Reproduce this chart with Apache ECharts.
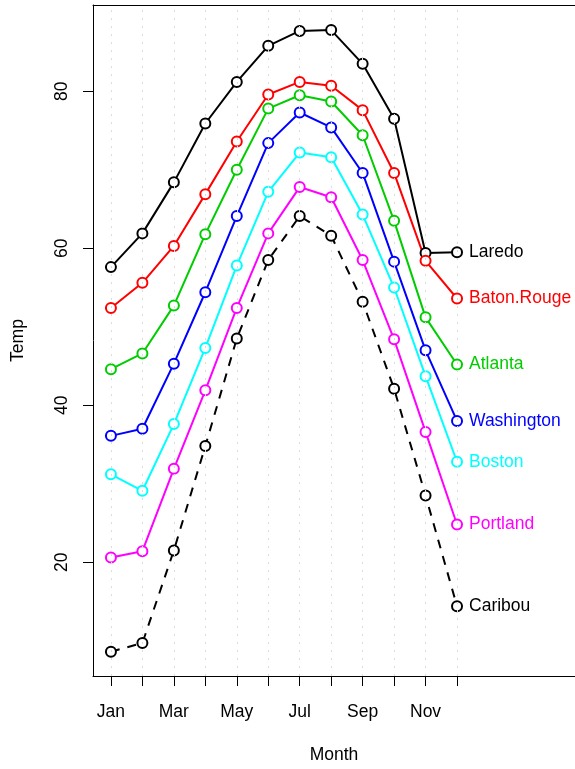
<!DOCTYPE html>
<html>
<head>
<meta charset="utf-8">
<script src="https://cdn.jsdelivr.net/npm/echarts@6/dist/echarts.min.js"></script>
<style>
  html, body { margin: 0; padding: 0; background: #fff; }
  #chart { width: 575px; height: 769px; }
</style>
</head>
<body>
<div id="chart"></div>
<script>
// Monthly mean temperatures (deg F) for seven US cities
const months = ['Jan', 'Feb', 'Mar', 'Apr', 'May', 'Jun', 'Jul', 'Aug', 'Sep', 'Oct', 'Nov', 'Dec'];
const monthIndex = [1, 2, 3, 4, 5, 6, 7, 8, 9, 10, 11, 12];
const labelledMonths = [1, 3, 5, 7, 9, 11];
const tempTicks = [20, 40, 60, 80];

const laredo     = [57.6, 61.9, 68.4, 75.9, 81.2, 85.8, 87.7, 87.8, 83.5, 76.5, 59.4, 59.5];
const batonRouge = [52.4, 55.6, 60.3, 66.9, 73.6, 79.6, 81.2, 80.7, 77.6, 69.6, 58.4, 53.6];
const atlanta    = [44.6, 46.6, 52.7, 61.8, 70.0, 77.8, 79.5, 78.7, 74.4, 63.5, 51.2, 45.2];
const washington = [36.1, 37.0, 45.3, 54.4, 64.1, 73.4, 77.3, 75.4, 69.6, 58.3, 47.0, 38.0];
const boston     = [31.2, 29.1, 37.6, 47.3, 57.8, 67.2, 72.2, 71.6, 64.3, 55.0, 43.7, 32.8];
const portland   = [20.6, 21.4, 31.9, 41.9, 52.4, 61.9, 67.8, 66.5, 58.5, 48.4, 36.6, 24.8];
const caribou    = [8.6, 9.7, 21.5, 34.8, 48.5, 58.5, 64.1, 61.6, 53.2, 42.1, 28.5, 14.4];

const cities = [
  { name: 'Laredo',      values: laredo,     color: '#000000', dash: 'solid' },
  { name: 'Baton.Rouge', values: batonRouge, color: '#ff0000', dash: 'solid' },
  { name: 'Atlanta',     values: atlanta,    color: '#00cd00', dash: 'solid' },
  { name: 'Washington',  values: washington, color: '#0000ff', dash: 'solid' },
  { name: 'Boston',      values: boston,     color: '#00ffff', dash: 'solid' },
  { name: 'Portland',    values: portland,   color: '#ff00ff', dash: 'solid' },
  { name: 'Caribou',     values: caribou,    color: '#000000', dash: [9, 8] }
];

const FONT = 'Liberation Sans, Arial, Helvetica, sans-serif';
const FS = 17.5;
const X_MIN = 0.43;
const X_MAX = 15.75;

const chart = echarts.init(document.getElementById('chart'), null, { renderer: 'canvas' });

const series = [];

// light dotted guide at each month
series.push({
  type: 'line',
  data: [],
  silent: true,
  z: 1,
  markLine: {
    silent: true,
    symbol: ['none', 'none'],
    label: { show: false },
    lineStyle: { color: '#dcdcdc', type: [2, 6], width: 1 },
    emphasis: { disabled: true },
    data: monthIndex.map(m => ({ xAxis: m }))
  }
});

cities.forEach(c => {
  series.push({
    name: c.name,
    type: 'line',
    z: 3,
    symbol: 'emptyCircle',
    symbolSize: 10,
    showAllSymbol: true,
    color: c.color,
    lineStyle: { color: c.color, width: 2, type: c.dash },
    itemStyle: { color: c.color, borderColor: c.color, borderWidth: 2 },
    emphasis: { disabled: true },
    data: c.values.map((v, i) => {
      const point = [monthIndex[i], v];
      if (i === c.values.length - 1) {
        return {
          value: point,
          label: {
            show: true,
            position: 'right',
            distance: 6,
            formatter: c.name,
            color: c.color,
            fontFamily: FONT,
            fontSize: FS
          }
        };
      }
      return point;
    })
  });
});

chart.setOption({
  animation: false,
  backgroundColor: '#ffffff',
  grid: {
    left: 93,
    right: 0,
    top: 5,
    bottom: 92,
    show: false
  },
  xAxis: [
    {
      type: 'value',
      position: 'bottom',
      min: X_MIN,
      max: X_MAX,
      name: 'Month',
      nameLocation: 'middle',
      nameGap: 70,
      nameTextStyle: { fontFamily: FONT, fontSize: FS, color: '#000' },
      axisLine: { show: true, onZero: false, lineStyle: { color: '#000', width: 1 } },
      splitLine: { show: false },
      axisTick: {
        show: true,
        length: 10,
        customValues: monthIndex,
        lineStyle: { color: '#000', width: 1 }
      },
      axisLabel: {
        show: true,
        margin: 27,
        customValues: labelledMonths,
        formatter: v => months[Math.round(v) - 1] || '',
        fontFamily: FONT,
        fontSize: FS,
        color: '#000'
      }
    },
    {
      // top edge of the plot frame
      type: 'value',
      position: 'top',
      min: X_MIN,
      max: X_MAX,
      axisLine: { show: true, onZero: false, lineStyle: { color: '#000', width: 1 } },
      axisTick: { show: false },
      axisLabel: { show: false },
      splitLine: { show: false }
    }
  ],
  yAxis: {
    type: 'value',
    min: 5.5,
    max: 91.0,
    name: 'Temp',
    nameLocation: 'middle',
    nameGap: 66,
    nameTextStyle: { fontFamily: FONT, fontSize: FS, color: '#000' },
    axisLine: { show: true, onZero: false, lineStyle: { color: '#000', width: 1 } },
    splitLine: { show: false },
    axisTick: {
      show: true,
      length: 10,
      customValues: tempTicks,
      lineStyle: { color: '#000', width: 1 }
    },
    axisLabel: {
      show: true,
      rotate: 90,
      margin: 22,
      customValues: tempTicks,
      fontFamily: FONT,
      fontSize: FS,
      color: '#000'
    }
  },
  series: series
});
</script>
</body>
</html>
